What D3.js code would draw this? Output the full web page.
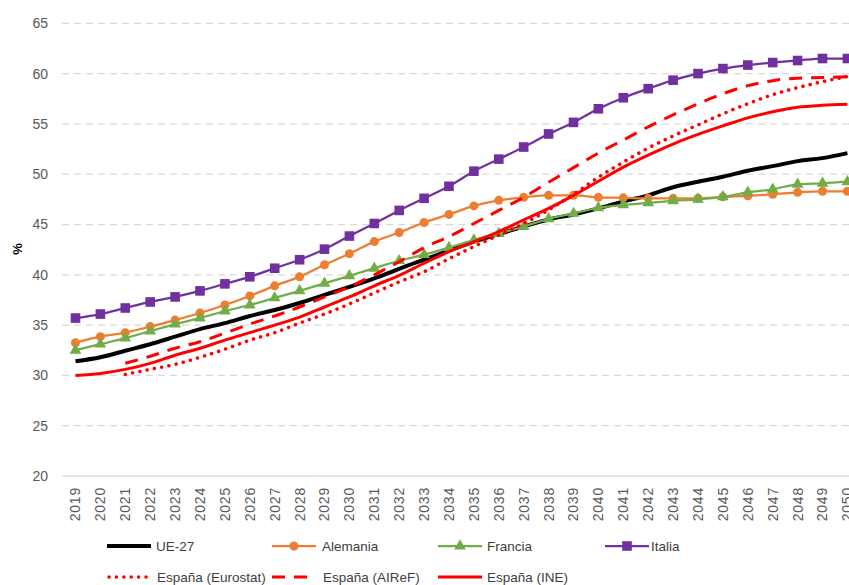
<!DOCTYPE html>
<html>
<head>
<meta charset="UTF-8">
<title>Tasa de dependencia</title>
<script src="https://cdn.jsdelivr.net/npm/d3@7"></script>
<style>
  body { margin: 0; background: #fff; }
  svg { display: block; font-family: "Liberation Sans", Arial, sans-serif; }
</style>
</head>
<body>
<div id="chart"></div>
<script>
var w = 849, h = 585;

// años
var years = d3.range(2019, 2051);
var yTicks = [20, 25, 30, 35, 40, 45, 50, 55, 60, 65];

// series (%)
var ue27 = [31.4, 31.8, 32.45, 33.1, 33.85, 34.6, 35.2, 35.9, 36.5, 37.2, 38.0, 38.8, 39.65, 40.6, 41.5, 42.4,
            43.3, 44.05, 44.8, 45.5, 46.0, 46.6, 47.3, 47.9, 48.7, 49.25, 49.75, 50.35, 50.8, 51.3, 51.6, 52.1];
var alemania = [33.25, 33.85, 34.25, 34.85, 35.5, 36.2, 37.0, 37.9, 38.9, 39.8, 41.0, 42.1, 43.3, 44.2, 45.2, 46.0,
                46.85, 47.4, 47.7, 47.9, 47.9, 47.7, 47.65, 47.6, 47.6, 47.6, 47.75, 47.85, 48.0, 48.2, 48.3, 48.3];
var francia = [32.5, 33.1, 33.7, 34.4, 35.1, 35.7, 36.4, 37.0, 37.7, 38.4, 39.15, 39.9, 40.65, 41.4, 42.0, 42.7,
               43.45, 44.1, 44.8, 45.55, 46.1, 46.65, 46.95, 47.15, 47.35, 47.5, 47.75, 48.2, 48.5, 49.0, 49.1, 49.25];
var italia = [35.7, 36.1, 36.7, 37.3, 37.8, 38.4, 39.1, 39.8, 40.65, 41.5, 42.55, 43.85, 45.1, 46.4, 47.6, 48.8,
              50.3, 51.5, 52.7, 54.0, 55.15, 56.5, 57.6, 58.5, 59.35, 60.0, 60.5, 60.85, 61.1, 61.3, 61.5, 61.5];
var espEurostat = [null, null, 30.1, 30.6, 31.1, 31.8, 32.6, 33.5, 34.25, 35.2, 36.1, 37.1, 38.2, 39.3, 40.3, 41.6,
                   42.8, 43.95, 45.1, 46.45, 48.0, 49.7, 51.2, 52.6, 53.8, 54.9, 56.0, 57.0, 57.9, 58.6, 59.2, 59.7];
var espAiref = [null, null, 31.2, 31.9, 32.7, 33.35, 34.2, 35.1, 35.9, 36.8, 37.8, 38.8, 40.0, 41.3, 42.7, 43.8,
                45.1, 46.4, 47.7, 49.2, 50.65, 52.1, 53.4, 54.7, 55.9, 57.0, 58.0, 58.8, 59.3, 59.55, 59.6, 59.7];
var espIne = [30.0, 30.2, 30.6, 31.2, 32.0, 32.7, 33.5, 34.25, 35.0, 35.8, 36.8, 37.8, 38.9, 39.95, 41.15, 42.3,
              43.3, 44.3, 45.45, 46.6, 47.9, 49.3, 50.7, 51.9, 53.0, 53.95, 54.8, 55.6, 56.2, 56.65, 56.85, 56.95];

var series = [
  {name: 'UE-27', values: ue27, color: '#000000', width: 4, dash: null, marker: null},
  {name: 'Alemania', values: alemania, color: '#ed7d31', width: 2.25, dash: null, marker: 'circle'},
  {name: 'Francia', values: francia, color: '#70ad47', width: 2.25, dash: null, marker: 'triangle'},
  {name: 'Italia', values: italia, color: '#7030a0', width: 2.25, dash: null, marker: 'square'},
  {name: 'España (Eurostat)', values: espEurostat, color: '#ff0000', width: 3.5, dash: '0.1,7.3', marker: null},
  {name: 'España (AIReF)', values: espAiref, color: '#ff0000', width: 3, dash: '13,9', marker: null},
  {name: 'España (INE)', values: espIne, color: '#ff0000', width: 3, dash: null, marker: null}
];

var plotLeft = 62, plotTop = 23.3, plotBottom = 476;

var x = d3.scalePoint().domain(years).range([75.5, 847.4]);
var y = d3.scaleLinear().domain([20, 65]).range([plotBottom, plotTop]);

var svg = d3.select('#chart').append('svg')
  .attr('width', w)
  .attr('height', h);

// rejilla
svg.append('g').selectAll('line')
  .data(yTicks.filter(function(d){ return d > 20; }))
  .enter().append('line')
  .attr('x1', plotLeft).attr('x2', w + 20)
  .attr('y1', function(d){ return y(d); })
  .attr('y2', function(d){ return y(d); })
  .attr('stroke', '#d9d9d9')
  .attr('stroke-width', 1.25)
  .attr('stroke-dasharray', '7,5');

// eje base
svg.append('line')
  .attr('x1', plotLeft).attr('x2', w + 20)
  .attr('y1', y(20)).attr('y2', y(20))
  .attr('stroke', '#d9d9d9').attr('stroke-width', 1.25);

// etiquetas eje y
svg.append('g').selectAll('text')
  .data(yTicks)
  .enter().append('text')
  .attr('x', 48)
  .attr('y', function(d){ return y(d); })
  .attr('dy', '0.35em')
  .attr('text-anchor', 'end')
  .attr('fill', '#595959')
  .style('font-size', '14px')
  .text(function(d){ return d; });

// etiquetas eje x
svg.append('g').selectAll('text')
  .data(years)
  .enter().append('text')
  .attr('transform', function(d){ return 'translate(' + x(d) + ',487) rotate(-90)'; })
  .attr('dy', '0.35em')
  .attr('text-anchor', 'end')
  .attr('fill', '#595959')
  .style('font-size', '14px')
  .style('letter-spacing', '0.8px')
  .text(function(d){ return d; });

// titulo eje y
svg.append('text')
  .attr('transform', 'translate(22,249) rotate(-90)')
  .attr('text-anchor', 'middle')
  .style('font-size', '13px')
  .style('font-weight', 'bold')
  .text('%');

var line = d3.line()
  .defined(function(d){ return d != null; })
  .x(function(d, i){ return x(years[i]); })
  .y(function(d){ return y(d); })
  .curve(d3.curveMonotoneX);

function drawMarker(g, type, color, cx, cy) {
  if (type == 'circle') {
    g.append('circle').attr('cx', cx).attr('cy', cy).attr('r', 4.5).attr('fill', color);
  } else if (type == 'square') {
    g.append('rect').attr('x', cx - 4.8).attr('y', cy - 4.8).attr('width', 9.6).attr('height', 9.6).attr('fill', color);
  } else if (type == 'triangle') {
    g.append('path').attr('d', d3.symbol().type(d3.symbolTriangle).size(60)()).attr('transform', 'translate(' + cx + ',' + cy + ')').attr('fill', color);
  }
}

// lineas
series.forEach(function(s){
  var g = svg.append('g');
  g.append('path')
    .attr('d', line(s.values))
    .attr('fill', 'none')
    .attr('stroke', s.color)
    .attr('stroke-width', s.width)
    .attr('stroke-linecap', s.dash == '0.1,7.3' ? 'round' : 'butt')
    .attr('stroke-linejoin', 'round')
    .attr('stroke-dasharray', s.dash);
  if (s.marker) {
    s.values.forEach(function(v, i){
      if (v != null) drawMarker(g, s.marker, s.color, x(years[i]), y(v));
    });
  }
});

// leyenda
var legendPos = [
  {lx: 107, ly: 546, tx: 156},
  {lx: 272, ly: 546, tx: 322},
  {lx: 438, ly: 546, tx: 487},
  {lx: 605, ly: 546, tx: 651},
  {lx: 107, ly: 577, tx: 157},
  {lx: 272, ly: 577, tx: 323},
  {lx: 438, ly: 577, tx: 487}
];
series.forEach(function(s, i){
  var p = legendPos[i];
  var g = svg.append('g');
  var len = s.dash ? 40 : 44;
  g.append('line')
    .attr('x1', s.dash == '0.1,7.3' ? p.lx + 2 : p.lx).attr('x2', p.lx + len)
    .attr('y1', p.ly).attr('y2', p.ly)
    .attr('stroke', s.color)
    .attr('stroke-width', s.width)
    .attr('stroke-linecap', s.dash == '0.1,7.3' ? 'round' : 'butt')
    .attr('stroke-dasharray', s.dash);
  if (s.marker) drawMarker(g, s.marker, s.color, p.lx + len / 2, p.ly);
  g.append('text')
    .attr('x', p.tx).attr('y', p.ly)
    .attr('dy', '0.35em')
    .attr('fill', '#404040')
    .style('font-size', '13.5px')
    .text(s.name);
});
</script>
</body>
</html>
